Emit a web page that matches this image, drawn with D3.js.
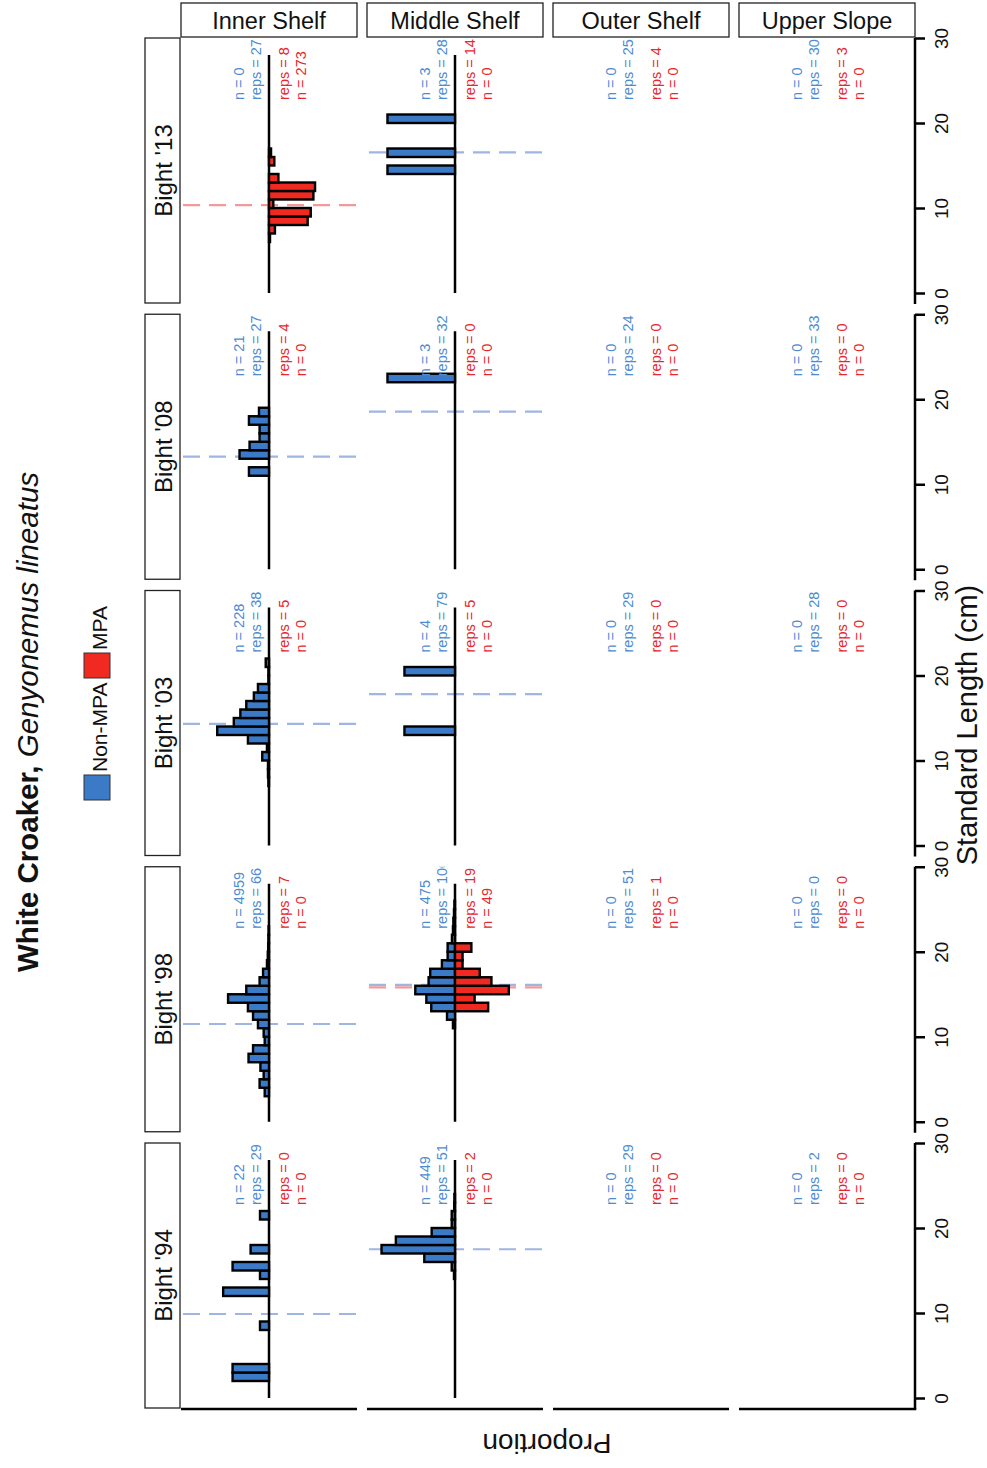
<!DOCTYPE html>
<html><head><meta charset="utf-8">
<script src="https://cdn.jsdelivr.net/npm/d3@7"></script>
<style>
body{margin:0;background:#fff}
svg{display:block}
text{font-family:"Liberation Sans",Arial,Helvetica,sans-serif}
</style>
</head><body>
<svg id="chart" width="987" height="1468"></svg>
<script>
// ---------------- DATA ----------------
const rowLabels = ["Bight '13", "Bight '08", "Bight '03", "Bight '98", "Bight '94"];
const colLabels = ["Inner Shelf", "Middle Shelf", "Outer Shelf", "Upper Slope"];
const lengthTicks = [0, 10, 20, 30];
const seriesNames = ["Non-MPA", "MPA"];

// sample counts / replicate counts [row][col]
const nNonMPA    = [[0, 3, 0, 0], [21, 3, 0, 0], [228, 4, 0, 0], [4959, 475, 0, 0], [22, 449, 0, 0]];
const repsNonMPA = [[27, 28, 25, 30], [27, 32, 24, 33], [38, 79, 29, 28], [66, 100, 51, 0], [29, 51, 29, 2]];
const repsMPA    = [[8, 14, 4, 3], [4, 0, 0, 0], [5, 5, 0, 0], [7, 19, 1, 0], [0, 2, 0, 0]];
const nMPA       = [[273, 0, 0, 0], [0, 0, 0, 0], [0, 0, 0, 0], [0, 49, 0, 0], [0, 0, 0, 0]];

// median standard length (cm) [row][col]
const medianNonMPA = [[null, 16.55, null, null], [13.24, 18.54, null, null], [14.3, 17.8, null, null], [11.5, 16.1, null, null], [9.88, 17.5, null, null]];
const medianMPA    = [[10.35, null, null, null], [null, null, null, null], [null, null, null, null], [null, 15.8, null, null], [null, null, null, null]];

// histograms: [lower edge of 1-cm bin, proportion]
const b13InnerMPA = [[6,0.005],[7,0.029],[8,0.189],[9,0.204],[10,0.021],[11,0.217],[12,0.225],[13,0.046],[15,0.026],[16,0.01]];
const b13MiddleNon = [[14,0.33],[16,0.33],[20,0.33]];
const b08InnerNon = [[11,0.098],[13,0.144],[14,0.095],[15,0.046],[16,0.046],[17,0.098],[18,0.049]];
const b08MiddleNon = [[22,0.33]];
const b03InnerNon = [[7,0.003],[8,0.005],[9,0.005],[10,0.033],[11,0.01],[12,0.103],[13,0.253],[14,0.172],[15,0.14],[16,0.111],[17,0.074],[18,0.054],[19,0.003],[20,0.003],[21,0.016]];
const b03MiddleNon = [[13,0.247],[20,0.247]];
const b98InnerNon = [[3,0.021],[4,0.046],[5,0.026],[6,0.042],[7,0.1],[8,0.078],[9,0.021],[10,0.026],[11,0.054],[12,0.078],[13,0.103],[14,0.2],[15,0.111],[16,0.046],[17,0.029],[18,0.01],[19,0.006],[20,0.004],[21,0.003],[22,0.002]];
const b98MiddleNon = [[11,0.01],[12,0.039],[13,0.116],[14,0.14],[15,0.194],[16,0.129],[17,0.121],[18,0.064],[19,0.036],[20,0.036],[21,0.015],[22,0.01],[23,0.008],[24,0.005],[25,0.003]];
const b98MiddleMPA = [[13,0.162],[14,0.096],[15,0.263],[16,0.178],[17,0.121],[18,0.037],[19,0.037],[20,0.08]];
const b94InnerNon = [[2,0.178],[3,0.178],[8,0.044],[12,0.224],[14,0.044],[15,0.178],[17,0.09],[21,0.044]];
const b94MiddleNon = [[14,0.005],[15,0.016],[16,0.15],[17,0.359],[18,0.289],[19,0.114],[20,0.016],[21,0.016],[22,0.004],[23,0.003]];

const histNon = [
  [[], b13MiddleNon, [], []],
  [b08InnerNon, b08MiddleNon, [], []],
  [b03InnerNon, b03MiddleNon, [], []],
  [b98InnerNon, b98MiddleNon, [], []],
  [b94InnerNon, b94MiddleNon, [], []]
];
const histMPA = [
  [b13InnerMPA, [], [], []],
  [[], [], [], []],
  [[], [], [], []],
  [[], b98MiddleMPA, [], []],
  [[], [], [], []]
];

// ---------------- STYLE / LAYOUT ----------------
const blueFill = "#3b7ac6", redFill = "#f02a20";
const blueText = "#4d8bd2", redText = "#e8262b";
const blueDash = "#9fb5e2", redDash = "#f29a9a";
const colX0 = 181, colW = 176, colStep = 186;
const rowY0 = 38, rowStep = 276.25, plotH = 255, panelH = 265;
const axisX = 915;

const svg = d3.select("#chart");
const defs = svg.append("defs");

rowLabels.forEach((rl, r) => {
  const top = rowY0 + r * rowStep;
  const y = d3.scaleLinear().domain([0, 30]).range([top + plotH, top]);

  // row strip
  svg.append("rect").attr("x", 145).attr("y", top).attr("width", 35).attr("height", panelH)
    .attr("fill", "#fff").attr("stroke", "#222").attr("stroke-width", 1.3);
  svg.append("text").attr("transform", `translate(172,${top + panelH / 2}) rotate(-90)`)
    .attr("text-anchor", "middle").attr("font-size", 24).attr("fill", "#111").text(rl);

  colLabels.forEach((cl, c) => {
    const left = colX0 + c * colStep;
    const x = d3.scaleLinear().domain([-0.43, 0.43]).range([left, left + colW]);
    const cid = `clip-${r}-${c}`;
    defs.append("clipPath").attr("id", cid).append("rect")
      .attr("x", left).attr("y", top).attr("width", colW).attr("height", panelH);
    const g = svg.append("g").attr("clip-path", `url(#${cid})`);

    // median dashed lines
    const meds = [[medianNonMPA[r][c], blueDash], [medianMPA[r][c], redDash]];
    meds.forEach(([m, col]) => {
      if (m == null) return;
      g.append("line").attr("x1", left + 2).attr("x2", left + colW).attr("y1", y(m)).attr("y2", y(m))
        .attr("stroke", col).attr("stroke-width", 2.2).attr("stroke-dasharray", "17,9");
    });

    const hasData = nNonMPA[r][c] + nMPA[r][c] > 0;
    if (hasData) {
      g.append("line").attr("x1", x(0)).attr("x2", x(0)).attr("y1", y(0)).attr("y2", y(28))
        .attr("stroke", "#000").attr("stroke-width", 2.5);
    }
    // bars
    g.selectAll("rect.non").data(histNon[r][c]).join("rect").attr("class", "non")
      .attr("x", d => x(-d[1])).attr("width", d => x(0) - x(-d[1]))
      .attr("y", d => y(d[0] + 1)).attr("height", d => y(d[0]) - y(d[0] + 1))
      .attr("fill", blueFill).attr("stroke", "#000").attr("stroke-width", 2.4);
    g.selectAll("rect.mpa").data(histMPA[r][c]).join("rect").attr("class", "mpa")
      .attr("x", x(0)).attr("width", d => x(d[1]) - x(0))
      .attr("y", d => y(d[0] + 1)).attr("height", d => y(d[0]) - y(d[0] + 1))
      .attr("fill", redFill).attr("stroke", "#000").attr("stroke-width", 2.4);

    // stats text
    const cx = left + colW / 2;
    const lines = [
      [`n = ${nNonMPA[r][c]}`, -25, blueText],
      [`reps = ${repsNonMPA[r][c]}`, -8.5, blueText],
      [`reps = ${repsMPA[r][c]}`, 19.5, redText],
      [`n = ${nMPA[r][c]}`, 36.5, redText]
    ];
    lines.forEach(([t, off, col]) => {
      g.append("text").attr("transform", `translate(${cx + off},${top + 62}) rotate(-90)`)
        .attr("text-anchor", "start").attr("font-size", 14.5).attr("fill", col).text(t);
    });
  });

  // right axis
  svg.append("line").attr("x1", axisX).attr("x2", axisX).attr("y1", top).attr("y2", top + panelH + 1)
    .attr("stroke", "#000").attr("stroke-width", 2.5);
  const ax = svg.append("g").attr("transform", `translate(${axisX},0)`)
    .call(d3.axisRight(y).tickValues(lengthTicks).tickSize(10).tickFormat(d3.format("d")));
  ax.select(".domain").remove();
  ax.selectAll(".tick line").attr("stroke", "#000").attr("stroke-width", 2.5);
  ax.selectAll(".tick text").attr("x", null).attr("dy", null)
    .attr("transform", "translate(33,0) rotate(-90)").attr("text-anchor", "middle")
    .attr("font-size", 19).attr("fill", "#111").attr("font-family", "Liberation Sans, Arial, sans-serif");
});

// column strips + bottom axis lines
colLabels.forEach((cl, c) => {
  const left = colX0 + c * colStep;
  svg.append("rect").attr("x", left).attr("y", 3).attr("width", colW).attr("height", 34)
    .attr("fill", "#fff").attr("stroke", "#222").attr("stroke-width", 1.3);
  svg.append("text").attr("x", left + colW / 2).attr("y", 28.5).attr("text-anchor", "middle")
    .attr("font-size", 23.5).attr("fill", "#111").text(cl);
  const bottom = rowY0 + 4 * rowStep + panelH + 1;
  svg.append("line").attr("x1", left).attr("x2", c === 3 ? axisX + 1.25 : left + colW)
    .attr("y1", bottom).attr("y2", bottom).attr("stroke", "#000").attr("stroke-width", 2.5);
});

// axis titles
svg.append("text").attr("transform", "translate(977,725) rotate(-90)").attr("text-anchor", "middle")
  .attr("font-size", 29).attr("fill", "#111").text("Standard Length (cm)");
svg.append("text").attr("transform", "translate(547,1434) rotate(180)").attr("text-anchor", "middle")
  .attr("font-size", 28).attr("fill", "#111").text("Proportion");

// title
const title = svg.append("text").attr("transform", "translate(38,722) rotate(-90)")
  .attr("text-anchor", "middle").attr("font-size", 29.5).attr("fill", "#111");
title.append("tspan").attr("font-weight", "bold").text("White Croaker, ");
title.append("tspan").attr("font-style", "italic").text("Genyonemus lineatus");

// legend
const legY = [775, 653];
const legFill = [blueFill, redFill];
const legTextY = [772, 650];
seriesNames.forEach((s, i) => {
  svg.append("rect").attr("x", 84).attr("y", legY[i]).attr("width", 26).attr("height", 25)
    .attr("fill", legFill[i]).attr("stroke", "#333").attr("stroke-width", 1);
  svg.append("text").attr("transform", `translate(107,${legTextY[i]}) rotate(-90)`)
    .attr("text-anchor", "start").attr("font-size", 21).attr("fill", "#111").text(s);
});
</script>
</body></html>
